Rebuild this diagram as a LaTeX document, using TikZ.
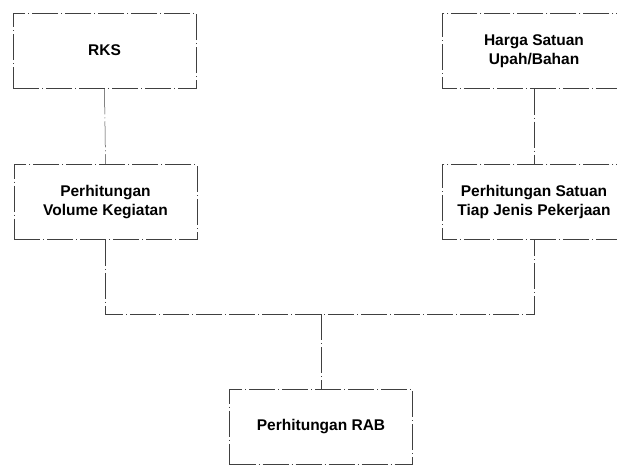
\documentclass[tikz,border=0pt]{standalone}
\usepackage{fontspec}
\setmainfont{Liberation Sans}
\begin{document}
\begin{tikzpicture}[x=1pt,y=-1pt,
  lines/.style={draw=black!75, line width=0.5pt, dash pattern=on 26pt off 3pt on 1pt off 3pt},
  boxtext/.style={minimum width=183pt, minimum height=75pt, inner sep=0pt, align=center,
    font=\fontsize{15.5}{18.5}\selectfont\bfseries},
  box/.style={boxtext, lines},
  openbox/.style={boxtext},
  link/.style={lines}]
\useasboundingbox (0,0) rectangle (617,464);
\node[box] (rks) at (104.5,50.5) {RKS};
\node[openbox] (harga) at (534,51) {Harga Satuan\\Upah/Bahan};
\node[box] (vol) at (105.5,202) {Perhitungan\\Volume Kegiatan};
\node[openbox] (sat) at (534,202) {Perhitungan Satuan\\Tiap Jenis Pekerjaan};
\node[box] (rab) at (321,427) {Perhitungan RAB};
\draw[lines] (harga.north west) ++(200,0) -- (harga.north west) -- (harga.south west) -- ++(200,0);
\draw[lines] (sat.north west) ++(200,0) -- (sat.north west) -- (sat.south west) -- ++(200,0);
\coordinate (bus) at (321,314);
\draw[link] (rks.south) -- (vol.north);
\draw[link] (harga.south) -- (sat.north);
\draw[link] (vol.south) |- (sat.south |- bus) -- (sat.south);
\draw[link] (bus) -- (rab.north);
\end{tikzpicture}
\end{document}
